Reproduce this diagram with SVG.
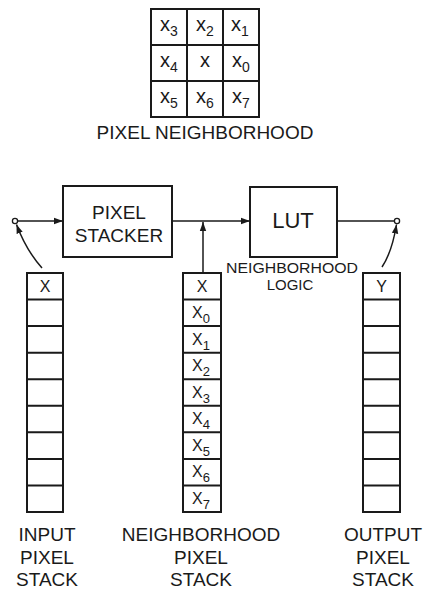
<svg xmlns="http://www.w3.org/2000/svg" width="428" height="589" viewBox="0 0 428 589">
<style>
.box{fill:none;stroke:#1a1a1a;stroke-width:2}
.ln{fill:none;stroke:#1a1a1a;stroke-width:1.5}
.t{font-family:"Liberation Sans",Arial,sans-serif;fill:#1a1a1a;text-anchor:middle}
.lbl{font-size:19px}
.cell{font-size:20px}
.sub{font-size:14px}
.sx{font-size:16px}
.ss{font-size:13px}
</style>
<defs>
<marker id="ah" markerWidth="10" markerHeight="8" refX="9" refY="4" orient="auto" markerUnits="userSpaceOnUse">
<path d="M0,0.8 L9,4 L0,7.2 Z" fill="#1a1a1a"/>
</marker>
</defs>
<rect width="428" height="589" fill="#ffffff"/>

<g id="pixel-neighborhood">
<rect class="box" x="151" y="9" width="108" height="108"/>
<line class="box" x1="187" y1="9" x2="187" y2="117"/>
<line class="box" x1="223" y1="9" x2="223" y2="117"/>
<line class="box" x1="151" y1="45" x2="259" y2="45"/>
<line class="box" x1="151" y1="81" x2="259" y2="81"/>
<text class="t cell" x="169" y="31">x<tspan class="sub" dy="5">3</tspan></text>
<text class="t cell" x="205" y="31">x<tspan class="sub" dy="5">2</tspan></text>
<text class="t cell" x="240" y="31">x<tspan class="sub" dy="5">1</tspan></text>
<text class="t cell" x="169" y="67">x<tspan class="sub" dy="5">4</tspan></text>
<text class="t cell" x="205" y="67">x</text>
<text class="t cell" x="241" y="67">x<tspan class="sub" dy="5">0</tspan></text>
<text class="t cell" x="169" y="103">x<tspan class="sub" dy="5">5</tspan></text>
<text class="t cell" x="205" y="103">x<tspan class="sub" dy="5">6</tspan></text>
<text class="t cell" x="241" y="103">x<tspan class="sub" dy="5">7</tspan></text>
<text class="t lbl" x="205" y="139">PIXEL NEIGHBORHOOD</text>
</g>

<g id="pixel-stacker">
<rect class="box" x="63" y="186" width="109" height="71"/>
<text class="t lbl" x="119" y="219">PIXEL</text>
<text class="t lbl" x="119" y="242">STACKER</text>
</g>

<g id="lut">
<rect class="box" x="250" y="187" width="87" height="70"/>
<text class="t" x="293" y="228" font-size="22">LUT</text>
<text class="t" x="292" y="273" font-size="14" textLength="132" lengthAdjust="spacingAndGlyphs">NEIGHBORHOOD</text>
<text class="t" x="290" y="290" font-size="15">LOGIC</text>
</g>

<g id="input-stack">
<rect class="box" x="27" y="273" width="36" height="239"/>
<path class="box" d="M27,299.6H63M27,326.1H63M27,352.7H63M27,379.2H63M27,405.8H63M27,432.3H63M27,458.9H63M27,485.4H63"/>
<text class="t sx" x="45" y="292">X</text>
<text class="t lbl" x="47" y="541">INPUT</text>
<text class="t lbl" x="47" y="564">PIXEL</text>
<text class="t lbl" x="47" y="586">STACK</text>
</g>

<g id="neighborhood-stack">
<rect class="box" x="183" y="273" width="38" height="239"/>
<path class="box" d="M183,299.6H221M183,326.1H221M183,352.7H221M183,379.2H221M183,405.8H221M183,432.3H221M183,458.9H221M183,485.4H221"/>
<text class="t sx" x="202" y="292">X</text>
<text class="t sx" x="201" y="318">X<tspan class="ss" dy="5">0</tspan></text>
<text class="t sx" x="201" y="344.5">X<tspan class="ss" dy="5">1</tspan></text>
<text class="t sx" x="201" y="371">X<tspan class="ss" dy="5">2</tspan></text>
<text class="t sx" x="201" y="397.5">X<tspan class="ss" dy="5">3</tspan></text>
<text class="t sx" x="201" y="424">X<tspan class="ss" dy="5">4</tspan></text>
<text class="t sx" x="201" y="450.5">X<tspan class="ss" dy="5">5</tspan></text>
<text class="t sx" x="201" y="477">X<tspan class="ss" dy="5">6</tspan></text>
<text class="t sx" x="201" y="503.5">X<tspan class="ss" dy="5">7</tspan></text>
<text class="t lbl" x="201" y="541">NEIGHBORHOOD</text>
<text class="t lbl" x="201" y="564">PIXEL</text>
<text class="t lbl" x="201" y="586">STACK</text>
</g>

<g id="output-stack">
<rect class="box" x="363" y="273" width="37" height="239"/>
<path class="box" d="M363,299.6H400M363,326.1H400M363,352.7H400M363,379.2H400M363,405.8H400M363,432.3H400M363,458.9H400M363,485.4H400"/>
<text class="t sx" x="381.5" y="292">Y</text>
<text class="t lbl" x="383" y="541">OUTPUT</text>
<text class="t lbl" x="383" y="564">PIXEL</text>
<text class="t lbl" x="383" y="586">STACK</text>
</g>

<g id="connectors">
<circle cx="15" cy="221" r="2.6" fill="#ffffff" stroke="#1a1a1a" stroke-width="1.3"/>
<circle cx="397" cy="221" r="2.6" fill="#ffffff" stroke="#1a1a1a" stroke-width="1.3"/>
<line class="ln" x1="17.6" y1="221" x2="63" y2="221" marker-end="url(#ah)"/>
<line class="ln" x1="172" y1="221" x2="250" y2="221" marker-end="url(#ah)"/>
<line class="ln" x1="337" y1="221" x2="394.4" y2="221"/>
<line class="ln" x1="203" y1="273" x2="203" y2="222" marker-end="url(#ah)"/>
<path class="ln" d="M42,268 Q26,250 16.5,224.5" marker-end="url(#ah)"/>
<path class="ln" d="M382,267 Q392,252 396.5,224.5" marker-end="url(#ah)"/>
</g>
</svg>
